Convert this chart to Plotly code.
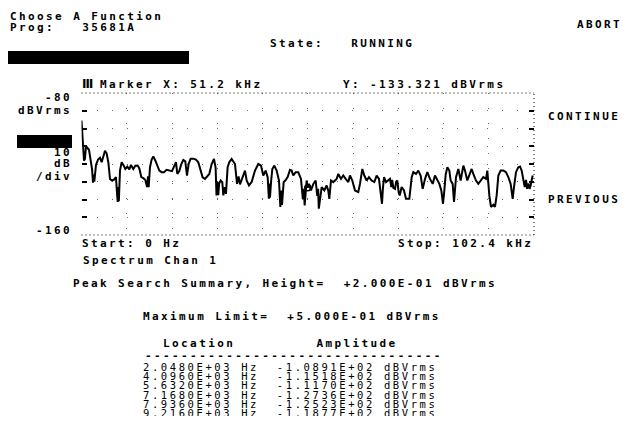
import plotly.graph_objects as go

W, H = 632, 440

# ---- spectrum trace (frequency in kHz, level in dBVrms) ----
freq_khz = [0.00, 0.20, 0.45, 0.57, 0.79, 1.02, 1.32, 1.70, 2.07, 2.38, 2.60, 2.75, 2.90, 3.28, 3.74, 4.19, 4.56,
            4.94, 5.32, 5.69, 6.07, 6.45, 6.90, 7.35, 7.80, 8.05, 8.20, 8.35, 8.45, 8.71, 9.09, 9.47, 9.92, 10.37,
            10.82, 11.20, 11.73, 12.18, 12.71, 13.09, 13.54, 13.99, 14.44, 14.85, 15.05, 15.20, 15.50, 15.87, 16.25,
            16.70, 17.16, 17.61, 18.13, 18.66, 19.26, 19.86, 20.48, 20.93, 21.38, 21.68, 22.13, 22.59, 23.04, 23.49,
            23.87, 24.24, 24.70, 25.30, 25.90, 26.43, 26.96, 27.41, 27.94, 28.47, 28.92, 29.45, 29.98, 30.35, 30.55,
            30.75, 30.95, 31.15, 31.49, 31.86, 32.10, 32.40, 32.69, 33.07, 33.44,
            33.98, 34.73, 35.20, 35.55, 35.87, 36.24, 36.62, 37.00, 37.37, 37.90, 38.50, 39.26, 40.01, 40.62, 41.14,
            41.67, 42.13, 42.40, 42.55, 42.65, 42.90, 43.18, 43.63, 44.16, 44.69, 45.00, 45.20, 45.37, 45.75, 46.12,
            46.65, 47.18, 47.56, 47.93, 48.46, 49.06, 49.67, 50.10, 50.30, 50.50, 50.95, 51.20, 51.48, 51.93, 52.46,
            52.99, 53.35, 53.55, 53.70, 53.97, 54.35, 54.95, 55.48, 55.85, 56.08, 56.46, 56.98, 57.74, 58.12, 58.72,
            59.25, 59.78, 60.38, 60.76, 61.28, 61.89, 62.64, 63.02, 63.55, 64.00, 64.53, 65.05, 65.66, 66.26, 66.79,
            67.32, 67.77, 68.00, 68.20,
            68.46, 68.91, 69.44, 69.81, 70.10, 70.30, 70.57, 70.94, 71.20, 71.47, 71.77, 72.00, 72.45, 72.98, 73.43,
            74.19, 74.72, 75.09, 75.70, 76.22, 76.75, 77.21, 77.73, 78.26, 78.86, 79.47, 79.99, 80.52, 80.98, 81.43,
            81.81, 82.11, 82.41, 82.79, 83.24, 83.54, 83.99, 84.30, 84.75, 85.28, 85.80, 86.41, 86.78, 87.31, 87.77,
            88.29, 88.67, 89.27, 89.80, 90.33, 90.93, 91.54, 91.84, 92.29, 92.67, 93.20, 93.57, 93.95, 94.33, 94.86,
            95.46, 96.06, 96.59, 97.12, 97.57, 97.87, 98.33, 98.85, 99.23, 99.61, 99.98, 100.30, 100.59, 100.85,
            101.12, 101.40, 101.64, 102.10]
level_dbv = [-95.5, -104.0, -117.5, -118.1, -117.0, -109.7, -111.0, -112.0, -118.0, -122.8, -130.5, -126.0, -130.0,
             -120.5, -117.5, -116.5, -119.0, -115.5, -112.5, -114.0, -119.0, -128.4, -129.3, -128.8, -127.4, -137.0,
             -141.4, -133.0, -141.0, -123.7, -119.0, -120.5, -122.8, -121.5, -123.0, -120.5, -122.8, -121.0, -120.9,
             -122.5, -127.4, -128.0, -129.0, -133.0, -127.0, -133.0, -121.8, -117.5, -115.8, -118.0, -121.0, -123.7,
             -124.6, -124.6, -123.3, -123.7, -124.0, -121.5, -119.0, -125.6, -124.0, -120.0, -117.7, -118.5, -126.5,
             -120.0, -117.0, -117.0, -117.5, -119.0, -124.0, -127.5, -128.4, -127.0, -125.6, -120.0, -117.2, -122.0,
             -137.7, -130.0, -137.5, -131.0, -129.3, -130.2, -137.7, -133.0, -136.8, -121.8, -119.0,
             -117.2, -120.0, -131.2, -127.0, -131.5, -129.0, -126.5, -123.7, -129.3, -132.1, -130.2, -123.7, -120.0,
             -120.9, -126.5, -123.7, -127.4, -139.6, -131.0, -139.0, -130.0, -122.8, -120.9, -123.7, -129.3, -144.2,
             -135.0, -143.0, -130.2, -129.3, -127.4, -123.3, -123.7, -126.5, -124.6, -124.6, -128.4, -140.0, -134.0,
             -143.3, -129.3, -133.3, -131.2, -134.9, -131.2, -129.3, -138.0, -134.0, -145.2, -140.0, -133.0, -134.9,
             -132.1, -135.0, -139.6, -129.3, -130.2, -128.4, -125.6, -128.4, -126.5, -128.4, -130.2, -126.5, -129.3,
             -134.9, -135.8, -131.2, -122.8, -126.5, -129.3, -127.4, -129.3, -130.2, -126.5, -128.4, -138.0, -142.4,
             -134.0,
             -127.4, -130.2, -129.3, -128.4, -133.0, -129.0, -133.5, -134.0, -130.0, -129.3, -136.0, -137.7, -133.0,
             -134.9, -139.6, -139.6, -127.4, -124.6, -125.6, -123.7, -126.5, -134.0, -128.4, -124.6, -128.4, -131.2,
             -126.5, -129.3, -131.2, -134.9, -142.4, -135.0, -126.0, -121.8, -123.7, -129.3, -131.2, -141.4, -127.4,
             -122.8, -129.3, -120.9, -123.7, -129.3, -126.5, -122.8, -125.6, -129.3, -131.2, -129.3, -127.4, -128.4,
             -123.7, -137.7, -144.2, -143.0, -144.2, -137.7, -126.5, -123.7, -123.7, -124.6, -127.4, -131.2, -139.6,
             -133.0, -124.6, -121.8, -121.4, -123.7, -128.4, -133.0, -129.0, -134.0, -131.0, -134.0, -132.1, -126.5]

marker_khz = 51.2
marker_dbv = -133.321
start_khz, stop_khz = 0.0, 102.4
top_dbv, bottom_dbv = -80, -160
db_per_div = 10

# ---- peak search table ----
peak_loc_hz = [2048, 4096, 5632, 7168, 7936, 9216]
peak_amp_dbv = [-108.91, -115.18, -111.70, -127.36, -125.23, -118.77]
peak_height = 0.2
max_limit = 0.5

FONT = "DejaVu Sans Mono"
FS = 11
LS = 2.4


def px_x(x):
    return x / W


def px_y(y):
    return 1 - y / H


def txt(s, ls=LS):
    s = s.replace(" ", "\u00a0")
    return f'<span style="letter-spacing:{ls}px">{s}</span>'


fig = go.Figure()

fig.add_trace(go.Scatter(x=freq_khz, y=level_dbv, mode="lines",
                         line=dict(color="black", width=2), hoverinfo="skip"))
fig.add_trace(go.Scatter(x=[marker_khz], y=[marker_dbv], mode="markers",
                         marker=dict(symbol="circle-open", size=6, color="black", line=dict(width=1.5)),
                         hoverinfo="skip"))

# table rows as text on their own (clipped) axes
TFS = 10.5
rows = [f"{loc:.4E} Hz  {amp:.4E} dBVrms" for loc, amp in zip(peak_loc_hz, peak_amp_dbv)]
fig.add_trace(go.Scatter(x=[0] * len(rows), y=list(range(len(rows))), mode="text",
                         text=[txt(r, 2.6) for r in rows], textposition="middle right",
                         textfont=dict(family=FONT, size=TFS, color="black"),
                         cliponaxis=True, xaxis="x2", yaxis="y2", hoverinfo="skip"))

X0, X1 = 81.5, 534
Y0, Y1 = 93, 235
pitch = 9.3
first_row_y = 368
tb_top, tb_bot = 360, 416
r_top = -(first_row_y - tb_top) / pitch
r_bot = r_top + (tb_bot - tb_top) / pitch

fig.update_layout(
    width=W, height=H, margin=dict(l=0, r=0, t=0, b=0),
    paper_bgcolor="white", plot_bgcolor="white", showlegend=False,
    xaxis=dict(domain=[px_x(X0), px_x(X1)], range=[start_khz, stop_khz], tick0=0, dtick=(stop_khz - start_khz) / 10,
               showgrid=True, gridcolor="#666", griddash="1px,14px", gridwidth=1,
               showticklabels=False, ticks="", zeroline=False, showline=False, fixedrange=True),
    yaxis=dict(domain=[px_y(Y1), px_y(Y0)], range=[bottom_dbv, top_dbv], dtick=db_per_div,
               showgrid=True, gridcolor="#666", griddash="1px,14px", gridwidth=1,
               showticklabels=False, ticks="inside", ticklen=5, tickwidth=1.5, tickcolor="black",
               mirror="ticks", zeroline=False, showline=False, fixedrange=True),
    xaxis2=dict(domain=[px_x(143), 1], range=[0, 1], visible=False, anchor="y2", fixedrange=True),
    yaxis2=dict(domain=[px_y(tb_bot), px_y(tb_top)], range=[r_bot, r_top], visible=False, anchor="x2",
                fixedrange=True),
)

# dotted frame: top, bottom, right
for (x0, y0, x1, y1) in [(0, 1, 1, 1), (0, 0, 1, 0), (1, 0, 1, 1)]:
    fig.add_shape(type="line", xref="x domain", yref="y domain", x0=x0, y0=y0, x1=x1, y1=y1,
                  line=dict(color="black", width=1, dash="1px,3px"))

# black highlight bars
for (x0, y0, x1, y1) in [(8, 51, 189, 64), (17, 135, 72, 148)]:
    fig.add_shape(type="rect", xref="paper", yref="paper", x0=px_x(x0), x1=px_x(x1), y0=px_y(y1), y1=px_y(y0),
                  fillcolor="black", line=dict(width=0))

labels = [
    ("Choose A Function", 10, 16, "left"),
    ("Prog:   35681A", 10, 27, "left"),
    ("State:   RUNNING", 270, 44, "left"),
    ("ABORT", 577, 24, "left"),
    ("Marker X: 51.2 kHz", 100, 84, "left"),
    (f"Y: {marker_dbv:.3f} dBVrms", 343, 84, "left"),
    (f"{top_dbv}", 72, 97, "right"),
    ("dBVrms", 72, 111, "right"),
    (f"{db_per_div}", 72, 153, "right"),
    ("dB", 72, 163, "right"),
    ("/div", 72, 176, "right"),
    (f"{bottom_dbv}", 72, 230, "right"),
    ("CONTINUE", 548, 116, "left"),
    ("PREVIOUS", 548, 199, "left"),
    ("Start: 0 Hz", 82, 243, "left"),
    (f"Stop: {stop_khz:.1f} kHz", 398, 243, "left"),
    ("Spectrum Chan 1", 83, 260, "left"),
    (f"Peak Search Summary, Height=  {peak_height:+.3E} dBVrms", 73, 283, "left"),
    (f"Maximum Limit=  {max_limit:+.3E} dBVrms", 143, 316, "left"),
    ("  Location         Amplitude", 145, 343, "left"),
    ("-" * 33, 145, 355, "left"),
]
for s, x, y, anc in labels:
    fig.add_annotation(text=txt(s), x=px_x(x), y=px_y(y), xref="paper", yref="paper",
                       xanchor=anc, yanchor="middle", showarrow=False, borderpad=0, borderwidth=0,
                       font=dict(family=FONT, size=FS, color="black", weight="bold"))

fig.add_annotation(text="<b>Ⅲ</b>", x=px_x(81), y=px_y(84), xref="paper", yref="paper", xanchor="left",
                   yanchor="middle", showarrow=False, borderpad=0,
                   font=dict(family="DejaVu Sans", size=12, color="black"))

fig.write_html("out.html", config={"displayModeBar": False},
               post_script="document.body.style.margin='0';")
